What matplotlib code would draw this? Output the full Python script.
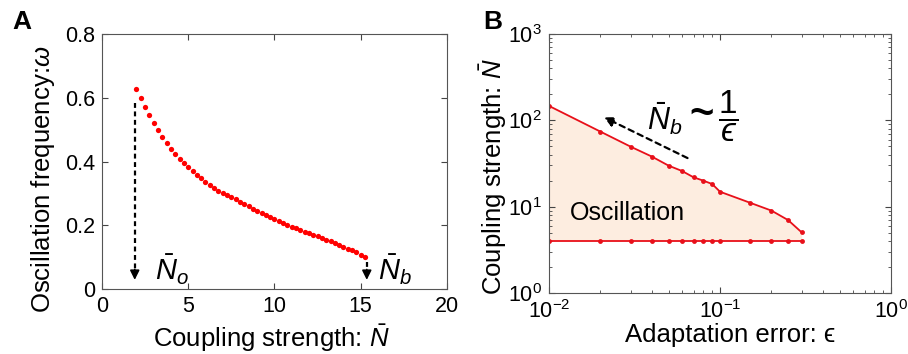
import numpy as np
import matplotlib
matplotlib.use('Agg')
import matplotlib.pyplot as plt

plt.rcParams['font.family'] = ['Liberation Sans', 'DejaVu Sans']
plt.rcParams['mathtext.fontset'] = 'custom'
plt.rcParams['mathtext.rm'] = 'Liberation Sans'
plt.rcParams['mathtext.it'] = 'Liberation Sans:italic'
plt.rcParams['mathtext.bf'] = 'Liberation Sans:bold'
plt.rcParams['mathtext.fallback'] = 'stixsans'

# panel A: oscillation frequency vs coupling strength
coupling = [2.0, 2.25, 2.5, 2.75, 3.0, 3.25, 3.5, 3.75, 4.0, 4.25, 4.5, 4.75,
            5.0, 5.25, 5.5, 5.75, 6.0, 6.25, 6.5, 6.75, 7.0, 7.25, 7.5, 7.75,
            8.0, 8.25, 8.5, 8.75, 9.0, 9.25, 9.5, 9.75, 10.0, 10.25, 10.5, 10.75,
            11.0, 11.25, 11.5, 11.75, 12.0, 12.25, 12.5, 12.75, 13.0, 13.25,
            13.5, 13.75, 14.0, 14.25, 14.5, 14.75, 15.0, 15.25]
omega = [0.627, 0.600, 0.571, 0.545, 0.520, 0.498, 0.478, 0.458, 0.440, 0.425,
         0.409, 0.395, 0.382, 0.370, 0.359, 0.347, 0.337, 0.326, 0.316, 0.309,
         0.302, 0.295, 0.289, 0.281, 0.273, 0.266, 0.259, 0.252, 0.245, 0.238,
         0.232, 0.225, 0.219, 0.213, 0.207, 0.201, 0.196, 0.190, 0.185, 0.180,
         0.175, 0.170, 0.165, 0.160, 0.155, 0.150, 0.144, 0.139, 0.133, 0.127,
         0.121, 0.115, 0.108, 0.100]
N_o = 1.9
N_b = 15.35

# panel B: oscillation region in (epsilon, N) plane
eps = [0.01, 0.02, 0.03, 0.04, 0.05, 0.06, 0.07, 0.08, 0.09, 0.1, 0.15, 0.2, 0.25, 0.3]
N_upper = [147, 74, 49.6, 38, 29.9, 25.9, 21.9, 20, 18.3, 14.9, 11.1, 9.0, 7.0, 5.05]
N_lower = [4.0] * len(eps)

fig = plt.figure(figsize=(9.08, 3.54), dpi=100)
axA = fig.add_axes([0.1123, 0.1836, 0.380, 0.720])
axB = fig.add_axes([0.6046, 0.1723, 0.3767, 0.7316])

for ax in (axA, axB):
    ax.tick_params(which='both', direction='in', top=True, right=True,
                   labelsize=15.5, color='#444444', pad=5)
    ax.tick_params(which='major', length=4)
    ax.tick_params(which='minor', length=2)
    for s in ax.spines.values():
        s.set_color('#555555')
        s.set_linewidth(0.8)

# --- A ---
axA.plot(coupling, omega, 'o', color='red', ms=3.8, mec='none')
axA.set_xlim(0, 20)
axA.set_ylim(0, 0.8)
axA.set_xticks([0, 5, 10, 15, 20])
axA.set_yticks([0, 0.2, 0.4, 0.6, 0.8])
axA.set_yticklabels(['0', '0.2', '0.4', '0.6', '0.8'])
axA.set_xlabel(r'Coupling strength: $\bar{N}$', fontsize=18.5)
axA.set_ylabel(r'Oscillation frequency:$\omega$', fontsize=18.5)
axA.yaxis.set_label_coords(-0.13, 0.43)
axA.xaxis.set_label_coords(0.49, -0.13)

# dashed arrows down to the x axis
axA.plot([N_o, N_o], [0.583, 0.06], color='k', lw=1.6, ls=(0, (2.2, 1.6)))
axA.annotate('', xy=(N_o, 0.02), xytext=(N_o, 0.07),
             arrowprops=dict(arrowstyle='-|>', color='k', lw=1.2, mutation_scale=14))
axA.plot([N_b, N_b], [0.085, 0.06], color='k', lw=1.6, ls=(0, (2.2, 1.6)))
axA.annotate('', xy=(N_b, 0.02), xytext=(N_b, 0.07),
             arrowprops=dict(arrowstyle='-|>', color='k', lw=1.2, mutation_scale=14))
axA.text(3.1, 0.06, r'$\bar{N}_o$', fontsize=21, va='center', ha='left')
axA.text(16.0, 0.06, r'$\bar{N}_b$', fontsize=21, va='center', ha='left')

fig.text(0.014, 0.937, 'A', fontsize=19, fontweight='bold', va='center')

# --- B ---
axB.set_xscale('log')
axB.set_yscale('log')
axB.fill_between(eps, N_lower, N_upper, color='#FDEDE0', lw=0)
axB.plot(eps, N_upper, '-o', color='#E8101A', lw=1.3, ms=3.5, mec='none')
axB.plot(eps, N_lower, '-o', color='#E8101A', lw=1.3, ms=3.5, mec='none')
axB.set_xlim(1e-2, 1e0)
axB.set_ylim(1e0, 1e3)
axB.set_xlabel('Adaptation error: \u03f5', fontsize=18.5)
axB.set_ylabel(r'Coupling strength: $\bar{N}$', fontsize=18.5)
axB.yaxis.set_label_coords(-0.118, 0.45)
axB.xaxis.set_label_coords(0.53, -0.115)

axB.text(0.0133, 8.5, 'Oscillation', fontsize=18, va='center', ha='left')
# scaling law  N_b ~ 1/eps
axB.text(0.0477, 106, r'$\bar{N}_b$', fontsize=22, va='center', ha='center')
axB.text(0.0775, 114, '~', fontsize=30, fontweight='bold', va='center', ha='center')
axB.text(0.1114, 112, '$\\dfrac{1}{\u03f5}$', fontsize=24, va='center', ha='center')
axB.annotate('', xy=(0.0203, 112), xytext=(0.0668, 35.4),
             arrowprops=dict(arrowstyle='-|>', color='k', lw=1.6, ls=(0, (2.5, 2.0)),
                             mutation_scale=14))

fig.text(0.532, 0.937, 'B', fontsize=19, fontweight='bold', va='center')

fig.savefig('out.png', dpi=100, facecolor='w')
